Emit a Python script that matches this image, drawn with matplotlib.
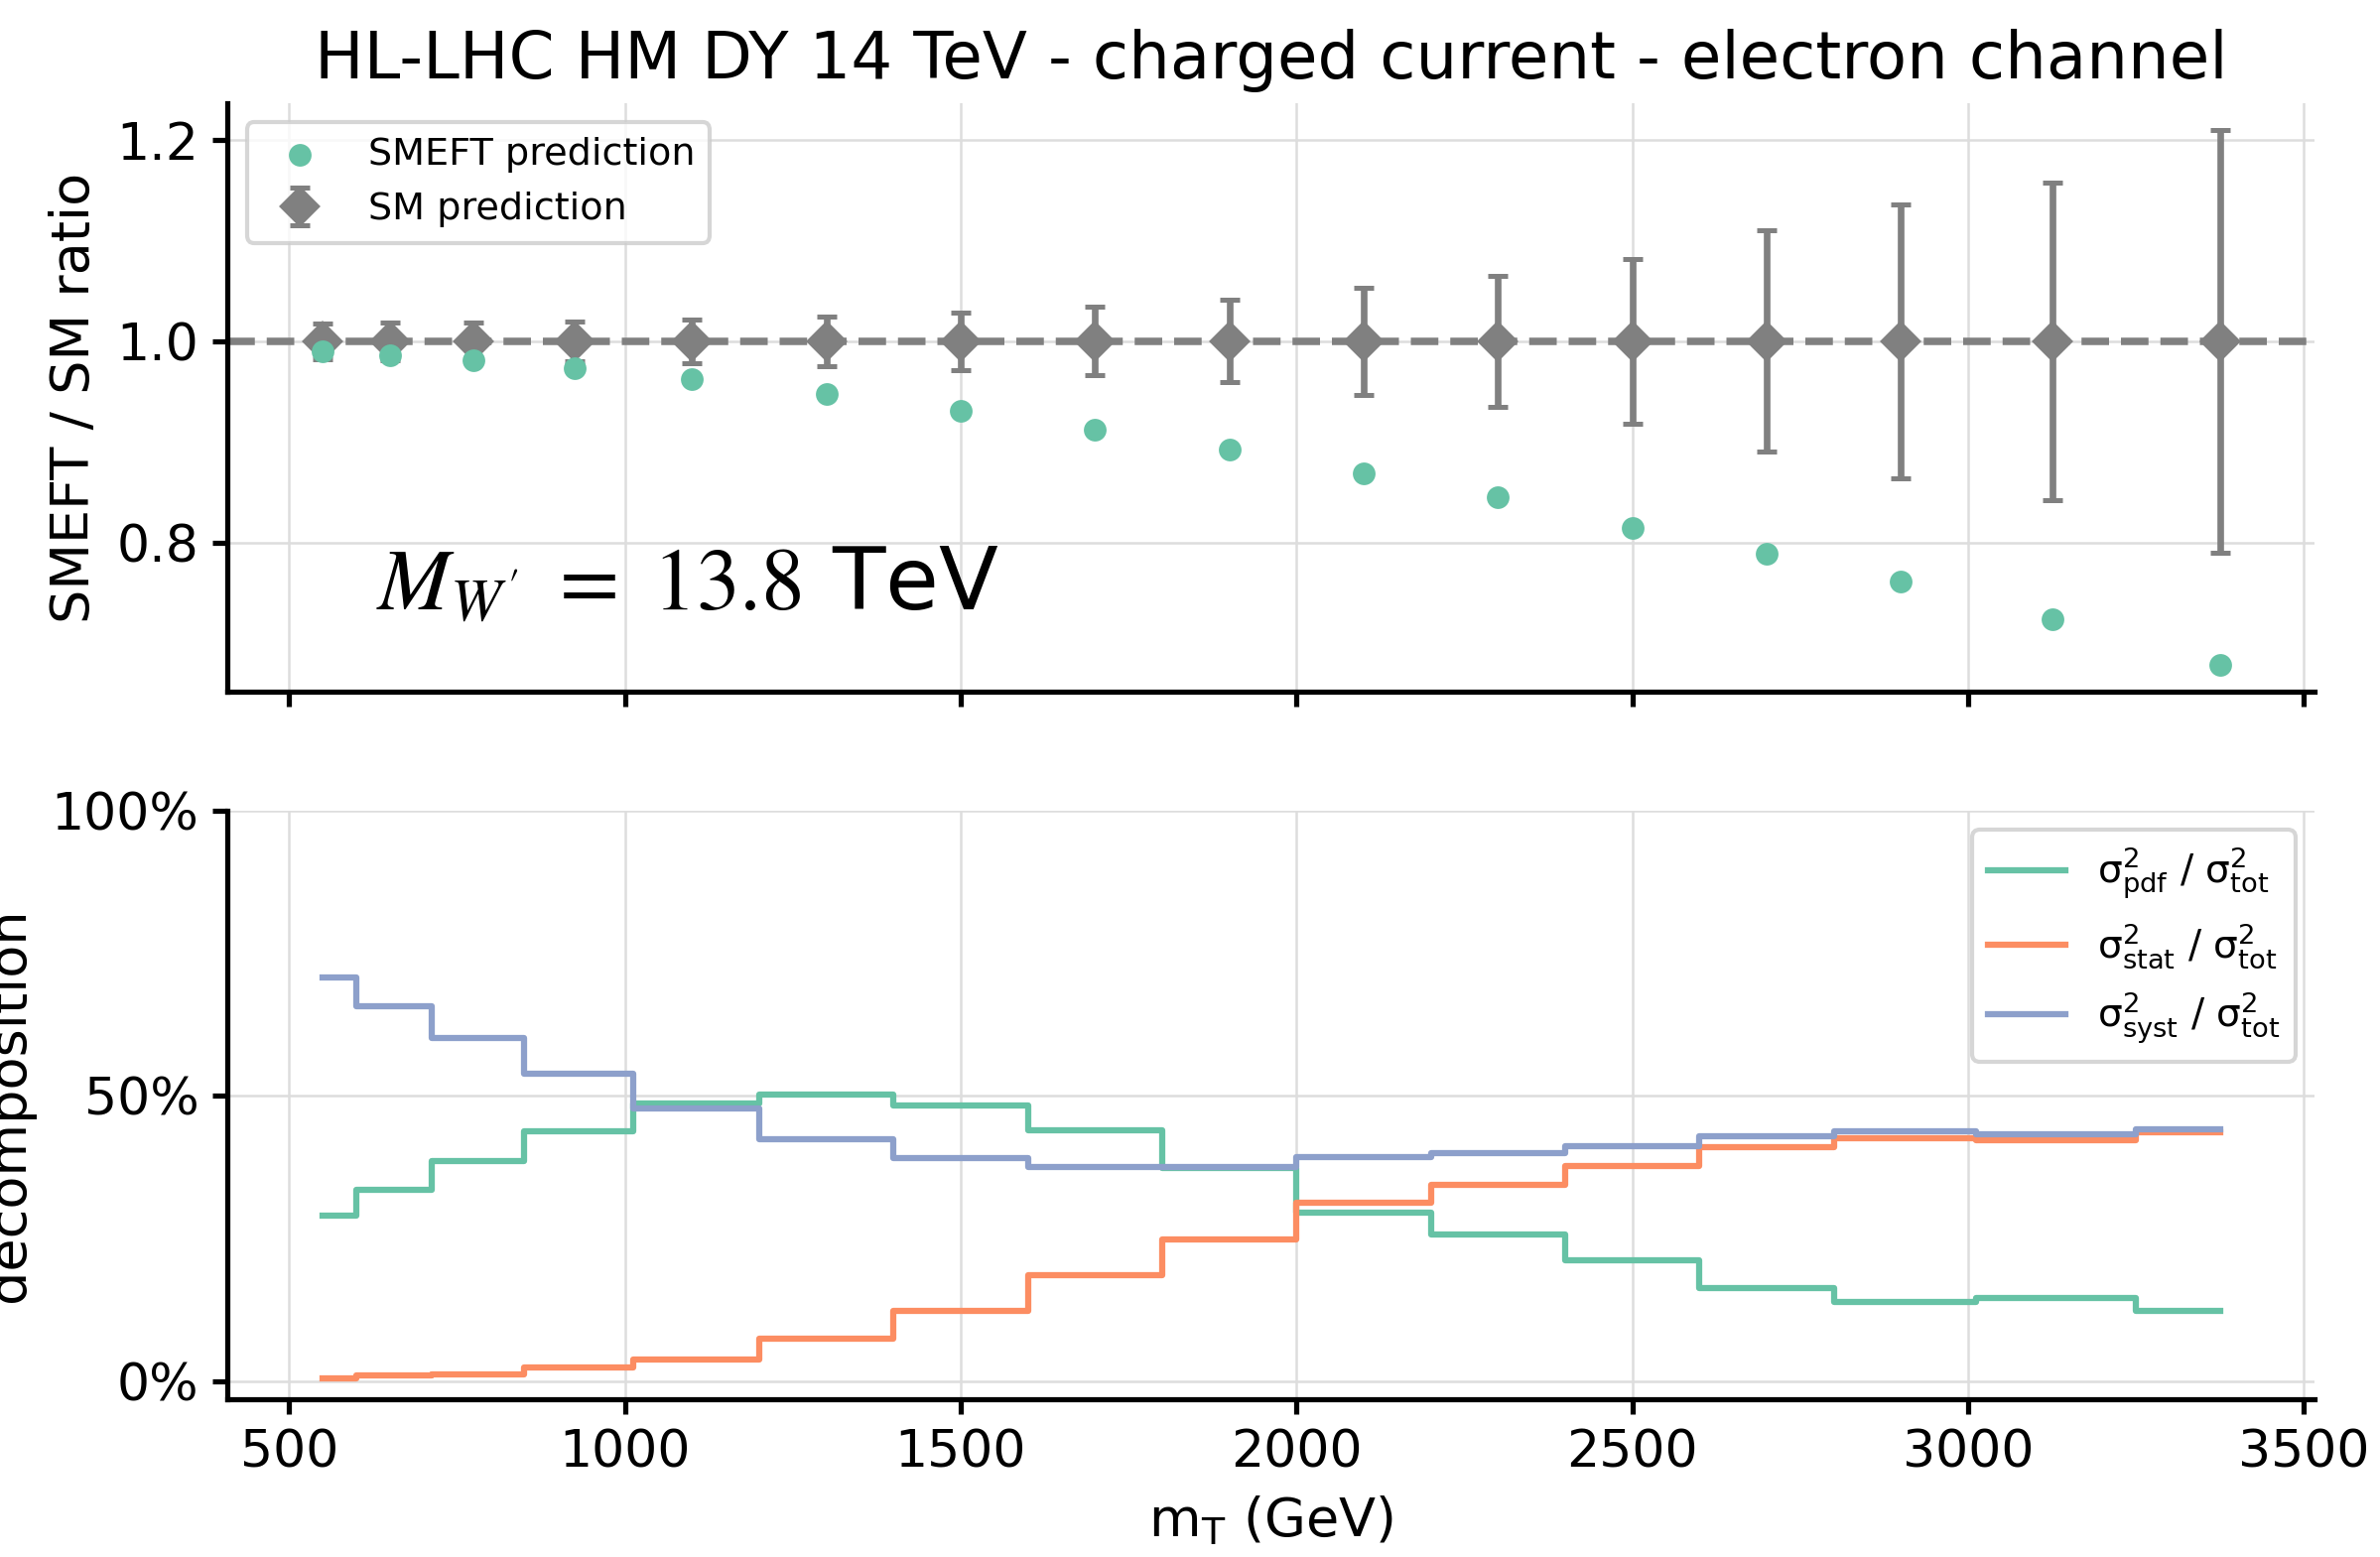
import matplotlib
matplotlib.use("Agg")
import matplotlib.pyplot as plt
from matplotlib.ticker import MultipleLocator, PercentFormatter

# bin centres in m_T (GeV)
mt_centres = [550, 650, 775, 925, 1100, 1300, 1500, 1700, 1900, 2100, 2300, 2500, 2700, 2900, 3125, 3375]

# upper panel: SMEFT / SM ratio
smeft_ratio = [0.990, 0.986, 0.981, 0.973, 0.962, 0.948, 0.931, 0.912, 0.892,
               0.869, 0.845, 0.814, 0.789, 0.761, 0.724, 0.678]
sm_ratio = [1.0, 1.0, 1.0, 1.0, 1.0, 1.0, 1.0, 1.0, 1.0, 1.0, 1.0, 1.0, 1.0, 1.0, 1.0, 1.0]
sm_err = [0.018, 0.019, 0.019, 0.020, 0.022, 0.025, 0.029, 0.034, 0.041,
          0.053, 0.065, 0.082, 0.110, 0.136, 0.158, 0.210]

# lower panel: uncertainty decomposition
frac_pdf = [0.289, 0.335, 0.386, 0.437, 0.486, 0.501, 0.482, 0.439, 0.373,
            0.295, 0.256, 0.212, 0.163, 0.139, 0.145, 0.123]
frac_stat = [0.004, 0.009, 0.012, 0.024, 0.038, 0.074, 0.123, 0.185, 0.248,
             0.312, 0.344, 0.376, 0.409, 0.425, 0.422, 0.435]
frac_syst = [0.707, 0.656, 0.601, 0.539, 0.478, 0.423, 0.390, 0.375, 0.375,
             0.392, 0.399, 0.411, 0.428, 0.437, 0.432, 0.441]

green, orange, blue = "#66c2a5", "#fc8d62", "#8da0cb"

plt.rcParams["axes.linewidth"] = 1.25
plt.rcParams["xtick.major.width"] = 1.25
plt.rcParams["ytick.major.width"] = 1.25

fig, (ax1, ax2) = plt.subplots(2, 1, figsize=(2398 / 300, 1569 / 300), dpi=300, sharex=True)
fig.subplots_adjust(left=0.0957, right=0.9726, top=0.9337, bottom=0.1014, hspace=0.201)

# --- upper panel
ax1.scatter(mt_centres, smeft_ratio, s=30, color=green, linewidths=0, zorder=3, label="SMEFT prediction")
ax1.errorbar(mt_centres, sm_ratio, yerr=sm_err, fmt="D", color="gray", markersize=6,
             elinewidth=1.6, capsize=2.5, capthick=1.2, label="SM prediction")
ax1.axhline(1.0, color="gray", linestyle="--", linewidth=1.8)
ax1.yaxis.set_major_locator(MultipleLocator(0.2))
ax1.set_ylabel("SMEFT / SM ratio", fontsize=13)
ax1.set_title("HL-LHC HM DY 14 TeV - charged current - electron channel", fontsize=15.8)
ax1.text(0.071, 0.14, r"$M_{W'}\ =\ 13.8$ TeV", transform=ax1.transAxes, fontsize=21,
         math_fontfamily="stix")
ax1.legend(loc="upper left", fontsize=9.15)

# --- lower panel
ax2.step(mt_centres, frac_pdf, where="mid", color=green, linewidth=1.5,
         label=r"σ$^2_\mathrm{pdf}$ / σ$^2_\mathrm{tot}$")
ax2.step(mt_centres, frac_stat, where="mid", color=orange, linewidth=1.5,
         label=r"σ$^2_\mathrm{stat}$ / σ$^2_\mathrm{tot}$")
ax2.step(mt_centres, frac_syst, where="mid", color=blue, linewidth=1.5,
         label=r"σ$^2_\mathrm{syst}$ / σ$^2_\mathrm{tot}$")
ax2.set_ylim(-0.032, 1.0)
ax2.yaxis.set_major_locator(MultipleLocator(0.5))
ax2.yaxis.set_major_formatter(PercentFormatter(1.0, decimals=0))
ax2.set_ylabel("decomposition", fontsize=13)
ax2.set_xlabel(r"m$_\mathrm{T}$ (GeV)", fontsize=13)
ax2.legend(loc="upper right", fontsize=9.4)

for ax in (ax1, ax2):
    ax.grid(True, color="#dddddd", linewidth=0.6)
    ax.set_axisbelow(True)
    ax.spines["top"].set_visible(False)
    ax.spines["right"].set_visible(False)
    ax.tick_params(labelsize=12.5)

plt.savefig("out.png", dpi=300)
